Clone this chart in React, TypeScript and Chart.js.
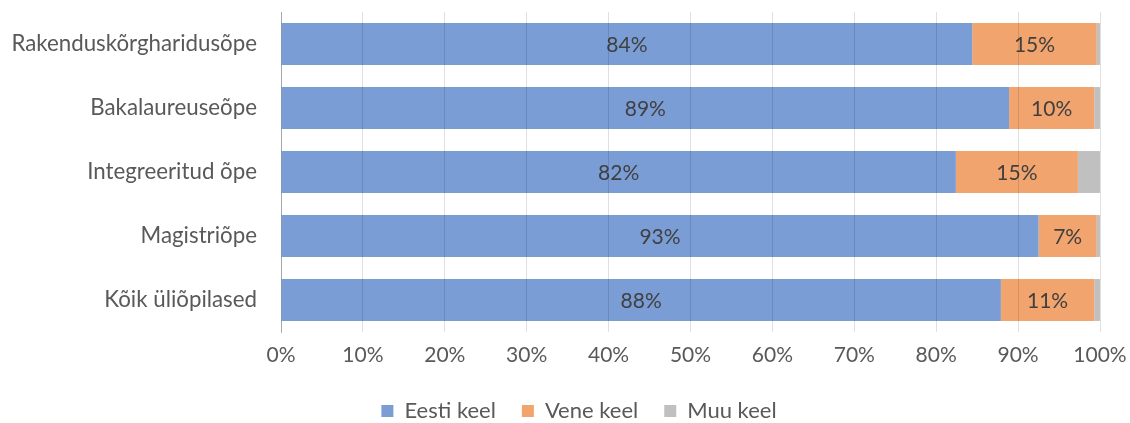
import React, { useEffect, useRef } from "react";
import { Chart, registerables } from "chart.js";

Chart.register(...registerables);

const categories = [
  "Rakenduskõrgharidusõpe",
  "Bakalaureuseõpe",
  "Integreeritud õpe",
  "Magistriõpe",
  "Kõik üliõpilased",
];
const eestiKeel = [84.4, 88.9, 82.4, 92.5, 87.9];
const veneKeel = [15.2, 10.4, 14.9, 7.1, 11.4];
const muuKeel = [0.4, 0.7, 2.7, 0.4, 0.7];
const seriesNames = ["Eesti keel", "Vene keel", "Muu keel"];
const xTicks = [0, 10, 20, 30, 40, 50, 60, 70, 80, 90, 100];

const FONT = "Lato, 'Open Sans', sans-serif";
const TEXT = "#595959";

const labelPlugin = {
  id: "barLabels",
  afterLayout(chart: any) {
    // Centre the legend under the same point as the original
    if (chart.legend) {
      chart.legend.left += 29;
      chart.legend.right += 29;
    }
  },
  afterDatasetsDraw(chart: any) {
    const ctx = chart.ctx;
    ctx.save();
    ctx.font = `21px ${FONT}`;
    ctx.fillStyle = "#404040";
    ctx.textAlign = "center";
    ctx.textBaseline = "middle";
    [0, 1].forEach((di) => {
      const meta = chart.getDatasetMeta(di);
      meta.data.forEach((bar: any, i: number) => {
        const v = chart.data.datasets[di].data[i] as number;
        const p = bar.getProps(["x", "y", "base"], true);
        const cx = (p.x + p.base) / 2;
        ctx.fillText(Math.round(v) + "%", cx, p.y + 1);
      });
    });
    ctx.restore();
  },
};

export default function App() {
  const ref = useRef<HTMLCanvasElement>(null);
  useEffect(() => {
    document.body.style.margin = "0";
    const chart = new Chart(ref.current!, {
      type: "bar",
      data: {
        labels: categories,
        datasets: [
          { label: seriesNames[0], data: eestiKeel, backgroundColor: "#7b9dd6" },
          { label: seriesNames[1], data: veneKeel, backgroundColor: "#f1a46e" },
          { label: seriesNames[2], data: muuKeel, backgroundColor: "#c0c0c0" },
        ],
      },
      options: {
        indexAxis: "y",
        animation: false,
        responsive: false,
        maintainAspectRatio: false,
        layout: { padding: { top: 12, right: 30, left: 0, bottom: -9 } },
        datasets: {
          bar: { barPercentage: 0.655, categoryPercentage: 1 },
        },
        scales: {
          x: {
            stacked: true,
            min: 0,
            max: 100,
            afterBuildTicks: (s: any) => {
              s.ticks = xTicks.map((v) => ({ value: v }));
            },
            afterFit: (s: any) => {
              s.height = 42;
              s.paddingLeft = 0;
              s.paddingRight = 0;
            },
            grid: { color: "rgba(0,0,0,0.12)", drawTicks: false, z: 1 },
            border: { display: false },
            ticks: {
              padding: 11,
              color: TEXT,
              font: { family: FONT, size: 21 },
              callback: (v: any) => v + "%",
            },
          },
          y: {
            stacked: true,
            afterFit: (s: any) => {
              s.width = 281;
              s.paddingTop = 0;
              s.paddingBottom = 0;
            },
            grid: { display: true, color: "rgba(0,0,0,0)", drawTicks: false },
            border: { display: true, color: "#bfbfbf", width: 1 },
            ticks: {
              padding: 24,
              color: TEXT,
              font: { family: FONT, size: 22.3 },
            },
          },
        },
        plugins: {
          legend: {
            position: "bottom",
            labels: {
              boxWidth: 12,
              boxHeight: 12,
              color: TEXT,
              font: { family: FONT, size: 22 },
              padding: 26,
            },
          },
          tooltip: { enabled: false },
        },
      },
      plugins: [labelPlugin],
    } as any);
    return () => chart.destroy();
  }, []);
  return (
    <div style={{ width: 1130, height: 423 }}>
      <canvas ref={ref} width={1130} height={423} style={{ width: 1130, height: 423 }} />
    </div>
  );
}
